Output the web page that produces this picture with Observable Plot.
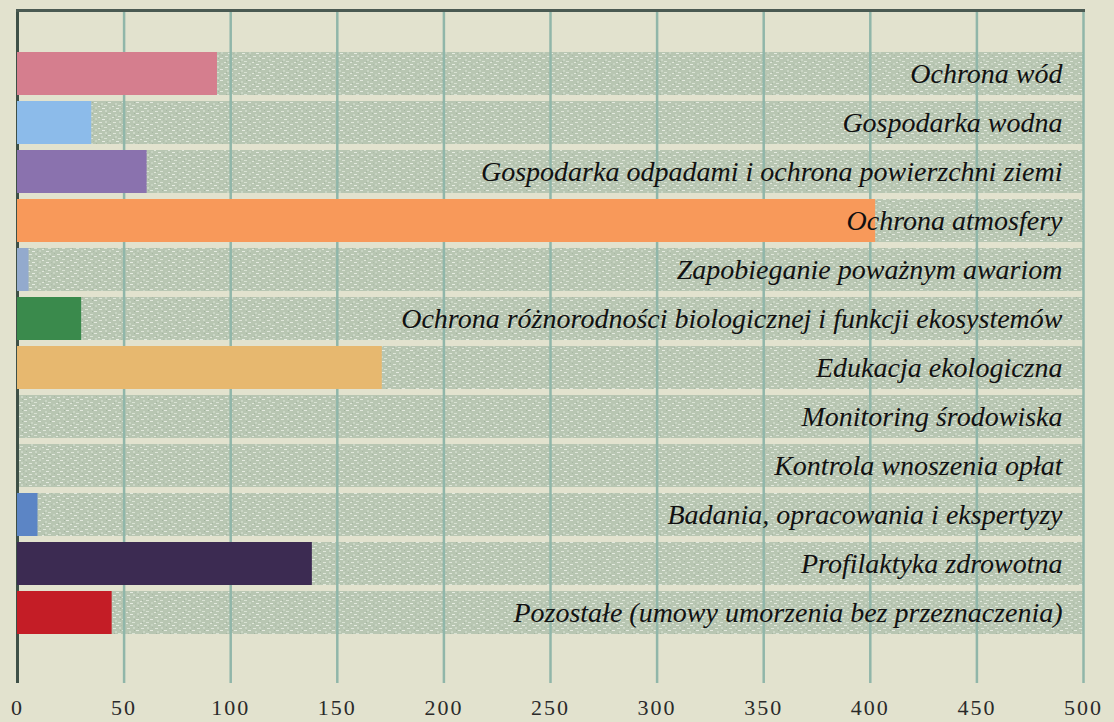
<!DOCTYPE html>
<html>
<head>
<meta charset="utf-8">
<script src="https://cdn.jsdelivr.net/npm/d3@7"></script>
<script src="https://cdn.jsdelivr.net/npm/@observablehq/plot@0.6"></script>
<style>
  html, body { margin: 0; padding: 0; background: #e2e2ce; }
  #chart { width: 1114px; height: 722px; overflow: hidden; }
  svg [aria-label="x-axis tick label"] text { letter-spacing: 2px; }
</style>
</head>
<body>
<div id="chart"></div>
<script>
const categories = [
  "Ochrona wód",
  "Gospodarka wodna",
  "Gospodarka odpadami i ochrona powierzchni ziemi",
  "Ochrona atmosfery",
  "Zapobieganie poważnym awariom",
  "Ochrona różnorodności biologicznej i funkcji ekosystemów",
  "Edukacja ekologiczna",
  "Monitoring środowiska",
  "Kontrola wnoszenia opłat",
  "Badania, opracowania i ekspertyzy",
  "Profilaktyka zdrowotna",
  "Pozostałe (umowy umorzenia bez przeznaczenia)"
];
const values = [93.8, 34.8, 60.8, 402.5, 5.4, 30.1, 171.1, 0, 0, 9.6, 138.3, 44.4];
const colors = ["#d57e8e", "#8cbbea", "#8a72ae", "#f8995a", "#93aacd", "#3a8a4c",
                "#e7b86f", "#8cbbea", "#8cbbea", "#5c85c5", "#3c2b52", "#c41d26"];
const ticks = [0, 50, 100, 150, 200, 250, 300, 350, 400, 450, 500];

const data = categories.map((c, i) => ({category: c, value: values[i], color: colors[i]}));

const svg = Plot.plot({
  width: 1114,
  height: 722,
  marginTop: 10,
  marginBottom: 39,
  marginLeft: 17,
  marginRight: 31,
  style: {background: "transparent", fontFamily: "'Liberation Serif', serif", color: "#222", overflow: "visible"},
  x: {domain: [ticks[0], ticks[ticks.length - 1]], ticks: ticks},
  y: {domain: categories, range: [50, 637], paddingInner: 0.12, paddingOuter: 0, axis: null},
  color: {type: "identity"},
  marks: [
    Plot.barX(categories, {y: d => d, x1: ticks[0], x2: ticks[ticks.length - 1], fill: "url(#speckle)"}),
    Plot.ruleX(ticks.slice(1), {stroke: "#90b6a9", strokeWidth: 2.5}),
    Plot.ruleX([ticks[0]], {stroke: "#3e5047", strokeWidth: 3}),
    Plot.frame({anchor: "top", stroke: "#4a5a52", strokeWidth: 3}),
    Plot.barX(data, {y: "category", x: "value", fill: "color"}),
    Plot.text(categories, {
      y: d => d, x: ticks[ticks.length - 1], dx: -21, textAnchor: "end",
      fontStyle: "italic", fontSize: 28, fill: "#111"
    }),
    Plot.axisX({ticks: ticks, tickSize: 0, tickPadding: 16, fontSize: 22, fill: "#2a2a2a", label: null})
  ]
});

// speckled texture for the row bands
const defs = d3.select(svg).insert("defs", ":first-child");
const pat = defs.append("pattern")
  .attr("id", "speckle").attr("patternUnits", "userSpaceOnUse")
  .attr("width", 14).attr("height", 11);
pat.append("rect").attr("width", 14).attr("height", 11).attr("fill", "#b8c6b2");
const specks = [
  [1, 1, 3, 1, "#e0e7db"], [7, 0, 2, 2, "#ccd7c7"], [10, 3, 3, 1, "#e4eae0"],
  [3, 4, 2, 2, "#cad6c5"], [0, 7, 2, 1, "#e1e8dc"], [6, 6, 3, 1, "#dae3d5"],
  [11, 8, 2, 2, "#c7d3c2"], [4, 9, 3, 1, "#e6ece2"], [8, 3, 1, 1, "#a3b49f"],
  [12, 0, 1, 1, "#a8b7a4"], [2, 6, 1, 1, "#a6b6a2"], [9, 9, 1, 1, "#adbca9"]
];
specks.forEach(([x, y, w, h, f]) => pat.append("rect")
  .attr("x", x).attr("y", y).attr("width", w).attr("height", h).attr("fill", f));

document.getElementById("chart").appendChild(svg);
</script>
</body>
</html>
